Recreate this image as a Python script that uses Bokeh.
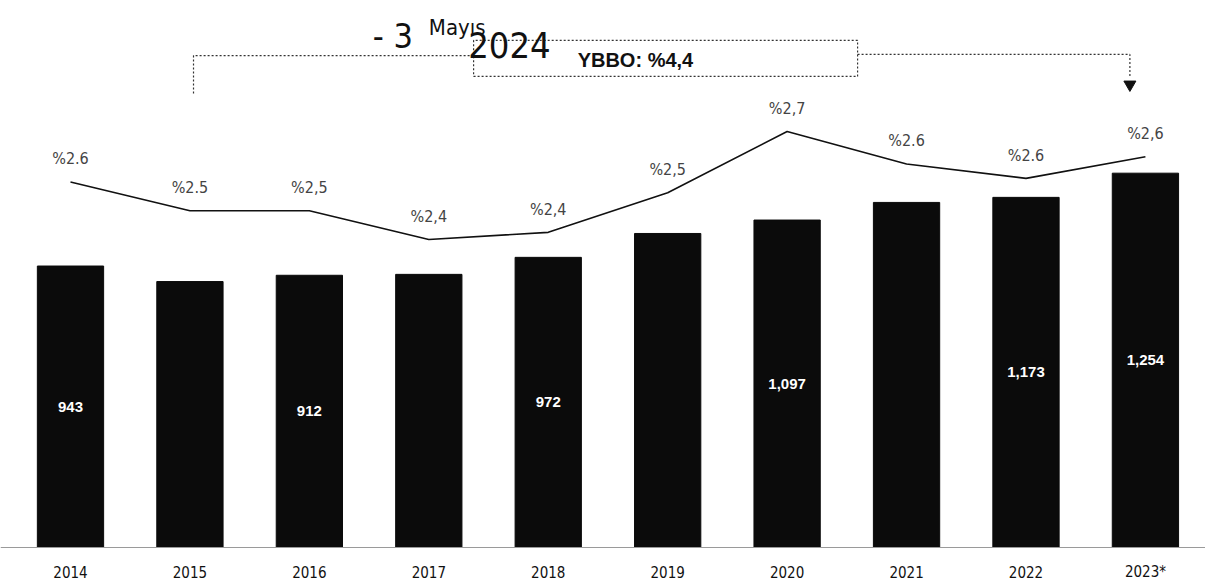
from bokeh.plotting import figure
from bokeh.models import Range1d, Span
from bokeh.core.properties import value
from bokeh.embed import file_html
from bokeh.resources import INLINE

# ---- data ----
years = ["2014", "2015", "2016", "2017", "2018", "2019", "2020", "2021", "2022", "2023*"]
bar_values = [943, 891, 912, 915, 972, 1052, 1097, 1156, 1173, 1254]
bar_labels = ["943", "", "912", "", "972", "", "1,097", "", "1,173", "1,254"]
pct_values = [2.56, 2.48, 2.48, 2.40, 2.42, 2.53, 2.70, 2.61, 2.57, 2.63]
pct_labels = ["%2.6", "%2.5", "%2,5", "%2,4", "%2,4", "%2,5", "%2,7", "%2.6", "%2.6", "%2,6"]
cagr_label = "YBBO: %4,4"
handwriting = ["- 3", "Mayıs", "2024"]

idx = list(range(len(years)))
NARROW = value("'Liberation Sans Narrow', 'DejaVu Sans Condensed', 'Roboto Condensed', sans-serif")
ARIAL = value("'Liberation Sans', Arial, sans-serif")

p = figure(width=1205, height=585, output_backend="svg", toolbar_location=None,
           x_range=Range1d(-0.586, 9.503), y_range=Range1d(-127.3, 1832.5),
           x_axis_type=None, y_axis_type=None,
           min_border_left=0, min_border_right=0, min_border_top=0, min_border_bottom=0,
           outline_line_color=None, background_fill_color="white")
p.extra_y_ranges = {"pct": Range1d(1.439, 3.064)}

# baseline
p.add_layout(Span(location=0, dimension="width", line_color="#9a9a9a", line_width=1))

# bars
p.vbar(x=idx, top=bar_values, width=0.555, fill_color="#0b0b0b", line_color="#0b0b0b")
p.text(x=idx, y=[v / 2 for v in bar_values], text=bar_labels, text_color="white",
       text_font=ARIAL, text_font_style="bold", text_font_size="15px",
       text_align="center", text_baseline="middle")

# category labels
p.text(x=idx, y=[0] * len(idx), text=years, y_offset=24,
       text_font=NARROW, text_font_size="15px", text_color="#111111",
       text_align="center", text_baseline="middle")

# share line
p.line(x=idx, y=pct_values, y_range_name="pct", line_color="#111111", line_width=1.6)
p.text(x=idx, y=pct_values, text=pct_labels, y_range_name="pct", y_offset=-23,
       text_font=NARROW, text_font_size="16px", text_color="#444444",
       text_align="center", text_baseline="middle")

# CAGR bracket annotation
xl, xr = idx[1] + 0.03, idx[9] - 0.13
box_l, box_r, box_t, box_b = 3.375, 6.59, 1699, 1578
dash = dict(line_color="#333333", line_width=1.2, line_dash="2 2")
p.line(x=[xl, xl, box_l], y=[1521, 1648, 1648], **dash)
p.line(x=[box_r, xr, xr], y=[1652, 1652, 1575], **dash)
p.line(x=[box_l, box_r, box_r, box_l, box_l], y=[box_b, box_b, box_t, box_t, box_b], **dash)
p.scatter(x=[xr], y=[1551], marker="inverted_triangle", size=12,
          fill_color="#111111", line_color="#111111")
p.text(x=[4.73], y=[1632], text=[cagr_label], text_font=ARIAL, text_font_style="bold",
       text_font_size="20px", text_color="#111111", text_align="center", text_baseline="middle")

# handwritten date
p.text(x=[2.53, 3.0, 3.33], y=[1712, 1742, 1685], text=handwriting,
       text_font=NARROW, text_font_size=["34px", "22px", "36px"],
       text_color="#111111", text_align="left", text_baseline="middle")

open("out.html", "w").write(file_html(p, INLINE))
